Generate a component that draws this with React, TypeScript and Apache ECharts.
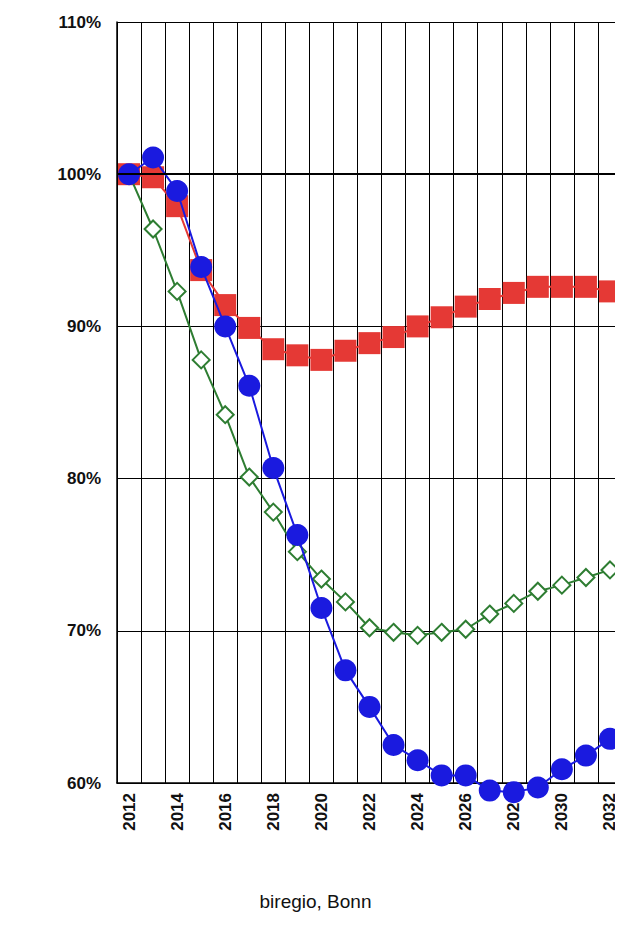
import { useEffect, useRef } from 'react';
import * as echarts from 'echarts';

const years = [
  '2012', '2013', '2014', '2015', '2016', '2017', '2018', '2019', '2020', '2021', '2022',
  '2023', '2024', '2025', '2026', '2027', '2028', '2029', '2030', '2031', '2032',
];
const redSeries = [100, 99.8, 97.9, 93.7, 91.4, 89.9, 88.5, 88.1, 87.8, 88.4, 88.9, 89.3, 90, 90.6, 91.3, 91.8, 92.2, 92.6, 92.6, 92.6, 92.3];
const blueSeries = [100, 101.1, 98.9, 93.9, 90, 86.1, 80.7, 76.3, 71.5, 67.4, 65, 62.5, 61.5, 60.5, 60.5, 59.5, 59.4, 59.7, 60.9, 61.8, 62.9];
const greenSeries = [100, 96.4, 92.3, 87.8, 84.2, 80.1, 77.8, 75.2, 73.4, 71.9, 70.2, 69.9, 69.7, 69.9, 70.1, 71.1, 71.8, 72.6, 73, 73.5, 74];

export default function App() {
  const chartRef = useRef<HTMLDivElement>(null);

  useEffect(() => {
    if (!chartRef.current) return;
    const chart = echarts.init(chartRef.current, undefined, { renderer: 'svg' });
    const font = 'Liberation Sans, Arial, sans-serif';

    chart.setOption({
      animation: false,
      textStyle: { fontFamily: font },
      grid: { left: 109, right: 1, top: 14, bottom: 135 },
      graphic: [
        {
          type: 'text',
          left: 'center',
          top: 884,
          style: { text: 'biregio, Bonn', fontSize: 19, fill: '#111', fontFamily: font },
        },
      ],
      xAxis: {
        type: 'category',
        data: years,
        boundaryGap: true,
        axisLine: { lineStyle: { color: '#000', width: 1.5 } },
        axisTick: { show: false },
        splitLine: { show: true, interval: 0, lineStyle: { color: '#000', width: 1 } },
        axisLabel: {
          interval: 1,
          rotate: 90,
          fontSize: 17,
          fontWeight: 'bold',
          color: '#111',
          margin: 10,
        },
      },
      yAxis: {
        type: 'value',
        min: 60,
        max: 110,
        interval: 10,
        axisLine: { show: true, lineStyle: { color: '#000', width: 1.5 } },
        axisTick: { show: false },
        splitLine: { lineStyle: { color: '#000', width: 1 } },
        axisLabel: {
          formatter: '{value}%',
          fontSize: 17,
          fontWeight: 'bold',
          color: '#111',
          margin: 16,
        },
      },
      series: [
        {
          type: 'line',
          data: redSeries,
          symbol: 'rect',
          symbolSize: 22,
          showAllSymbol: true,
          clip: false,
          lineStyle: { color: '#e53935', width: 2 },
          itemStyle: { color: '#e53935' },
          markLine: {
            silent: true,
            symbol: 'none',
            label: { show: false },
            lineStyle: { color: '#000', width: 2, type: 'solid' },
            data: [{ yAxis: 100 }],
          },
          z: 2,
        },
        {
          type: 'line',
          data: greenSeries,
          symbol: 'diamond',
          symbolSize: 17,
          showAllSymbol: true,
          clip: false,
          lineStyle: { color: '#2e7d32', width: 2 },
          itemStyle: { color: '#fff', borderColor: '#2e7d32', borderWidth: 2 },
          z: 3,
        },
        {
          type: 'line',
          data: blueSeries,
          symbol: 'circle',
          symbolSize: 22,
          showAllSymbol: true,
          clip: false,
          lineStyle: { color: '#1a1adf', width: 2 },
          itemStyle: { color: '#1a1adf' },
          z: 4,
        },
      ],
    });

    return () => chart.dispose();
  }, []);

  return <div ref={chartRef} style={{ width: 615, height: 910 }} />;
}
